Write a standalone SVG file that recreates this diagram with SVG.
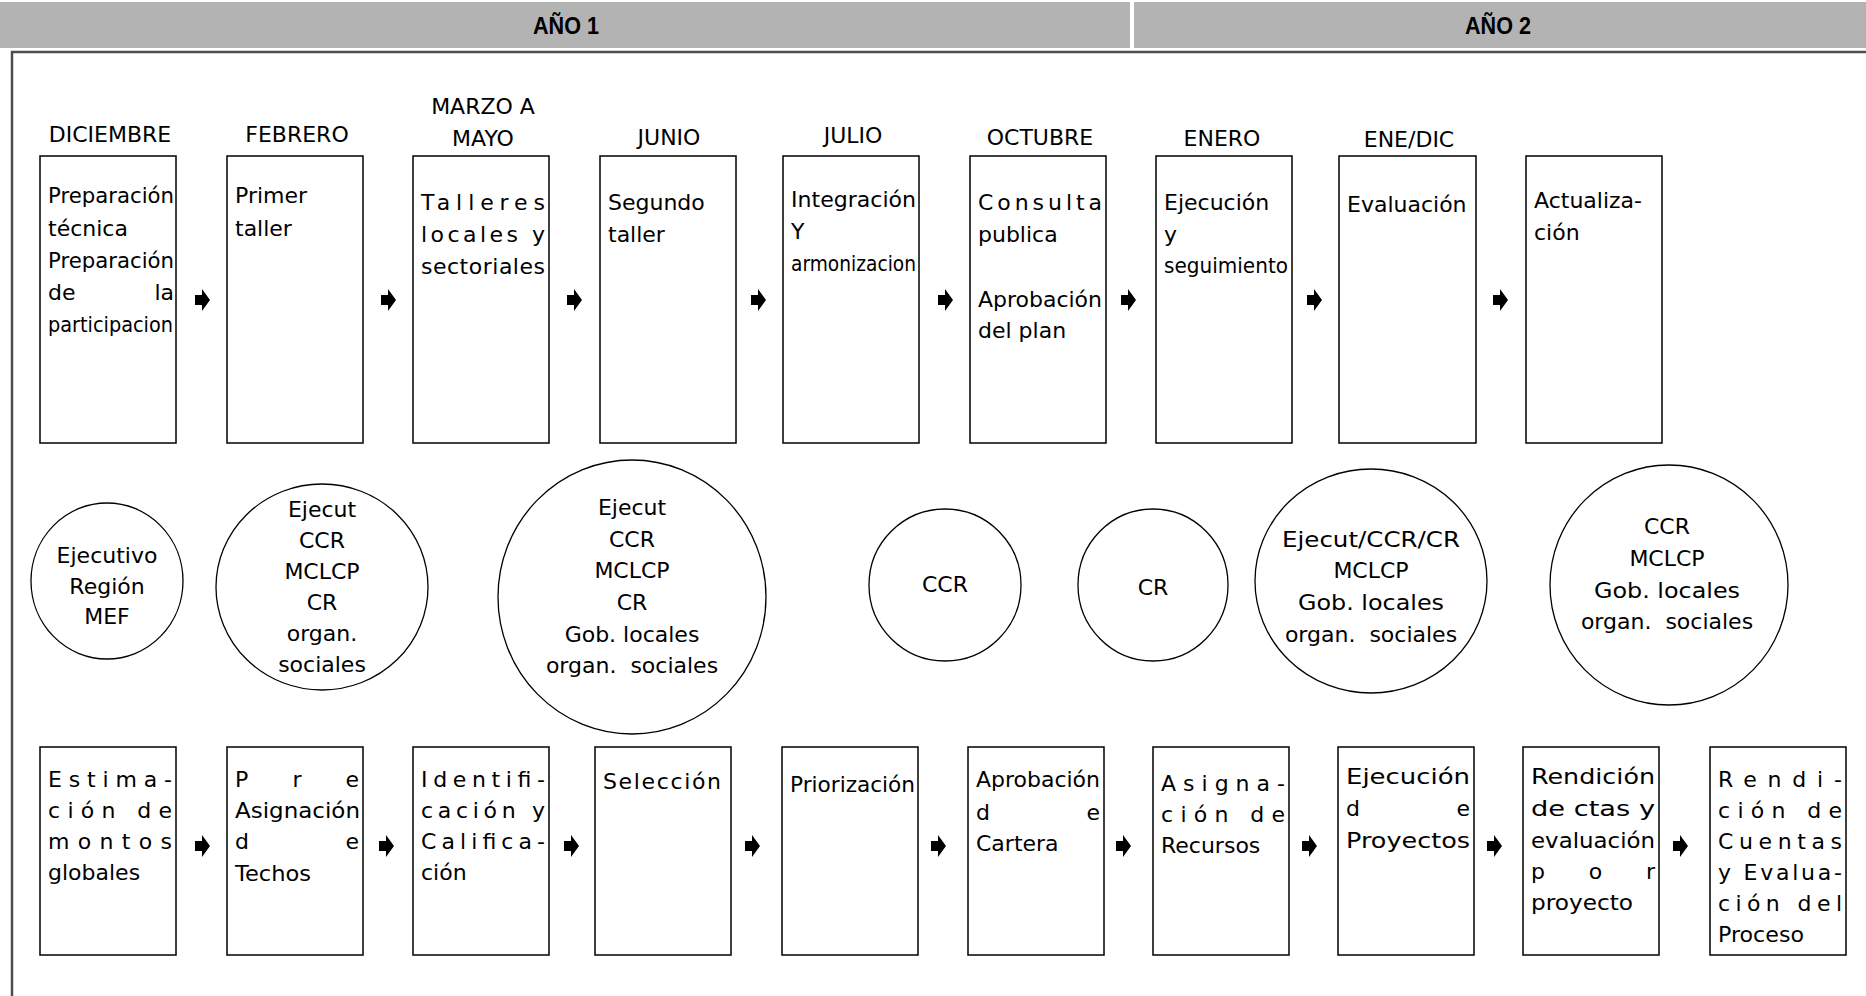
<svg xmlns="http://www.w3.org/2000/svg" width="1866" height="996" viewBox="0 0 1866 996">
<defs>
<style>
.hdr{fill:#b3b3b3}
.ht{font-family:"Liberation Sans",Arial,sans-serif;font-weight:bold;font-size:23px;fill:#000;text-anchor:middle}
.frame{fill:none;stroke:#4d4d4d;stroke-width:2.5}
.box{fill:#fff;stroke:#000;stroke-width:1.5}
.ell{fill:#fff;stroke:#000;stroke-width:1.3}
.t{font-family:"DejaVu Sans","Liberation Sans",sans-serif;font-size:22px;fill:#000}
.m{font-family:"DejaVu Sans","Liberation Sans",sans-serif;font-size:22px;fill:#000;text-anchor:middle}
.c{text-anchor:middle}
.e{text-anchor:end}
</style>
<path id="arr" d="M-7,-5 H0 V-11 L8,0 L0,11 V5 H-7 Z" fill="#000"/>
</defs>
<rect width="1866" height="996" fill="#fff"/>
<g id="header">
<rect class="hdr" x="0" y="2" width="1130" height="46"/>
<rect class="hdr" x="1134" y="2" width="732" height="46"/>
<text class="ht" x="566" y="34" textLength="66" lengthAdjust="spacingAndGlyphs">AÑO 1</text>
<text class="ht" x="1498" y="34" textLength="66" lengthAdjust="spacingAndGlyphs">AÑO 2</text>
</g>
<path class="frame" d="M12,996 V52 H1866"/>
<g id="months">
<text class="m" x="110" y="142">DICIEMBRE</text>
<text class="m" x="297" y="142">FEBRERO</text>
<text class="m" x="483" y="114">MARZO A</text>
<text class="m" x="483" y="146">MAYO</text>
<text class="m" x="669" y="145">JUNIO</text>
<text class="m" x="853" y="143">JULIO</text>
<text class="m" x="1040" y="145">OCTUBRE</text>
<text class="m" x="1222" y="146">ENERO</text>
<text class="m" x="1409" y="147">ENE/DIC</text>
</g>
<g id="t1">
<rect class="box" x="40" y="156" width="136" height="287"/>
<text class="t" x="48" y="203" textLength="126" lengthAdjust="spacingAndGlyphs">Preparación</text>
<text class="t" x="48" y="236">técnica</text>
<text class="t" x="48" y="268" textLength="126" lengthAdjust="spacingAndGlyphs">Preparación</text>
<text class="t" x="48" y="300">de</text><text class="t e" x="174" y="300">la</text>
<text class="t" x="48" y="332" textLength="125" lengthAdjust="spacingAndGlyphs">participacion</text>
</g>
<g id="t2">
<rect class="box" x="227" y="156" width="136" height="287"/>
<text class="t" x="235" y="203">Primer</text>
<text class="t" x="235" y="236">taller</text>
</g>
<g id="t3">
<rect class="box" x="413" y="156" width="136" height="287"/>
<text class="t" x="421" y="210" textLength="124" lengthAdjust="spacing">Talleres</text>
<text class="t" x="421" y="242" textLength="124" lengthAdjust="spacing">locales y</text>
<text class="t" x="421" y="274" textLength="124" lengthAdjust="spacing">sectoriales</text>
</g>
<g id="t4">
<rect class="box" x="600" y="156" width="136" height="287"/>
<text class="t" x="608" y="210">Segundo</text>
<text class="t" x="608" y="242">taller</text>
</g>
<g id="t5">
<rect class="box" x="783" y="156" width="136" height="287"/>
<text class="t" x="791" y="207" textLength="125" lengthAdjust="spacingAndGlyphs">Integración</text>
<text class="t" x="791" y="239">Y</text>
<text class="t" x="791" y="271" textLength="125" lengthAdjust="spacingAndGlyphs">armonizacion</text>
</g>
<g id="t6">
<rect class="box" x="970" y="156" width="136" height="287"/>
<text class="t" x="978" y="210" textLength="124" lengthAdjust="spacing">Consulta</text>
<text class="t" x="978" y="242">publica</text>
<text class="t" x="978" y="307" textLength="124" lengthAdjust="spacingAndGlyphs">Aprobación</text>
<text class="t" x="978" y="338">del plan</text>
</g>
<g id="t7">
<rect class="box" x="1156" y="156" width="136" height="287"/>
<text class="t" x="1164" y="210">Ejecución</text>
<text class="t" x="1164" y="242">y</text>
<text class="t" x="1164" y="273" textLength="124" lengthAdjust="spacingAndGlyphs">seguimiento</text>
</g>
<g id="t8">
<rect class="box" x="1339" y="156" width="137" height="287"/>
<text class="t" x="1347" y="212">Evaluación</text>
</g>
<g id="t9">
<rect class="box" x="1526" y="156" width="136" height="287"/>
<text class="t" x="1534" y="208">Actualiza-</text>
<text class="t" x="1534" y="240">ción</text>
</g>
<g id="e1">
<ellipse class="ell" cx="107" cy="581" rx="76" ry="78"/>
<text class="t c" x="107" y="563">Ejecutivo</text>
<text class="t c" x="107" y="594">Región</text>
<text class="t c" x="107" y="624">MEF</text>
</g>
<g id="e2">
<ellipse class="ell" cx="322" cy="587" rx="106" ry="103"/>
<text class="t c" x="322" y="517">Ejecut</text>
<text class="t c" x="322" y="548">CCR</text>
<text class="t c" x="322" y="579">MCLCP</text>
<text class="t c" x="322" y="610">CR</text>
<text class="t c" x="322" y="641">organ.</text>
<text class="t c" x="322" y="672">sociales</text>
</g>
<g id="e3">
<ellipse class="ell" cx="632" cy="597" rx="134" ry="137"/>
<text class="t c" x="632" y="515">Ejecut</text>
<text class="t c" x="632" y="547">CCR</text>
<text class="t c" x="632" y="578">MCLCP</text>
<text class="t c" x="632" y="610">CR</text>
<text class="t c" x="632" y="642">Gob. locales</text>
<text class="t c" x="632" y="673" xml:space="preserve">organ.  sociales</text>
</g>
<g id="e4">
<ellipse class="ell" cx="945" cy="585" rx="76" ry="76"/>
<text class="t c" x="945" y="592">CCR</text>
</g>
<g id="e5">
<ellipse class="ell" cx="1153" cy="585" rx="75" ry="76"/>
<text class="t c" x="1153" y="595">CR</text>
</g>
<g id="e6">
<ellipse class="ell" cx="1371" cy="581" rx="116" ry="112"/>
<text class="t c" x="1371" y="547" textLength="178" lengthAdjust="spacingAndGlyphs">Ejecut/CCR/CR</text>
<text class="t c" x="1371" y="578">MCLCP</text>
<text class="t c" x="1371" y="610" textLength="146" lengthAdjust="spacingAndGlyphs">Gob. locales</text>
<text class="t c" x="1371" y="642" xml:space="preserve">organ.  sociales</text>
</g>
<g id="e7">
<ellipse class="ell" cx="1669" cy="585" rx="119" ry="120"/>
<text class="t c" x="1667" y="534">CCR</text>
<text class="t c" x="1667" y="566">MCLCP</text>
<text class="t c" x="1667" y="598" textLength="146" lengthAdjust="spacingAndGlyphs">Gob. locales</text>
<text class="t c" x="1667" y="629" xml:space="preserve">organ.  sociales</text>
</g>
<g id="b1">
<rect class="box" x="40" y="747" width="136" height="208"/>
<text class="t" x="48" y="787" textLength="124" lengthAdjust="spacing">Estima-</text>
<text class="t" x="48" y="818" textLength="124" lengthAdjust="spacing">ción de</text>
<text class="t" x="48" y="849" textLength="124" lengthAdjust="spacing">montos</text>
<text class="t" x="48" y="880">globales</text>
</g>
<g id="b2">
<rect class="box" x="227" y="747" width="136" height="208"/>
<text class="t" x="235" y="787" textLength="124" lengthAdjust="spacing">Pre</text>
<text class="t" x="235" y="818" textLength="125" lengthAdjust="spacingAndGlyphs">Asignación</text>
<text class="t" x="235" y="849" textLength="124" lengthAdjust="spacing">de</text>
<text class="t" x="235" y="881" textLength="76" lengthAdjust="spacingAndGlyphs">Techos</text>
</g>
<g id="b3">
<rect class="box" x="413" y="747" width="136" height="208"/>
<text class="t" x="421" y="787" textLength="124" lengthAdjust="spacing">Identifi-</text>
<text class="t" x="421" y="818" textLength="124" lengthAdjust="spacing">cación y</text>
<text class="t" x="421" y="849" textLength="124" lengthAdjust="spacing">Califica-</text>
<text class="t" x="421" y="880">ción</text>
</g>
<g id="b4">
<rect class="box" x="595" y="747" width="136" height="208"/>
<text class="t" x="603" y="789" textLength="118" lengthAdjust="spacing">Selección</text>
</g>
<g id="b5">
<rect class="box" x="782" y="747" width="136" height="208"/>
<text class="t" x="790" y="792" textLength="125" lengthAdjust="spacingAndGlyphs">Priorización</text>
</g>
<g id="b6">
<rect class="box" x="968" y="747" width="136" height="208"/>
<text class="t" x="976" y="787" textLength="124" lengthAdjust="spacingAndGlyphs">Aprobación</text>
<text class="t" x="976" y="820" textLength="124" lengthAdjust="spacing">de</text>
<text class="t" x="976" y="851">Cartera</text>
</g>
<g id="b7">
<rect class="box" x="1153" y="747" width="136" height="208"/>
<text class="t" x="1161" y="791" textLength="124" lengthAdjust="spacing">Asigna-</text>
<text class="t" x="1161" y="822" textLength="124" lengthAdjust="spacing">ción de</text>
<text class="t" x="1161" y="853">Recursos</text>
</g>
<g id="b8">
<rect class="box" x="1338" y="747" width="136" height="208"/>
<text class="t" x="1346" y="784" textLength="124" lengthAdjust="spacingAndGlyphs">Ejecución</text>
<text class="t" x="1346" y="816" textLength="124" lengthAdjust="spacing">de</text>
<text class="t" x="1346" y="848" textLength="124" lengthAdjust="spacingAndGlyphs">Proyectos</text>
</g>
<g id="b9">
<rect class="box" x="1523" y="747" width="136" height="208"/>
<text class="t" x="1531" y="784" textLength="124" lengthAdjust="spacingAndGlyphs">Rendición</text>
<text class="t" x="1531" y="816" textLength="124" lengthAdjust="spacingAndGlyphs">de ctas y</text>
<text class="t" x="1531" y="848" textLength="124" lengthAdjust="spacingAndGlyphs">evaluación</text>
<text class="t" x="1531" y="879" textLength="124" lengthAdjust="spacing">por</text>
<text class="t" x="1531" y="910" textLength="102" lengthAdjust="spacingAndGlyphs">proyecto</text>
</g>
<g id="b10">
<rect class="box" x="1710" y="747" width="136" height="208"/>
<text class="t" x="1718" y="787" textLength="124" lengthAdjust="spacing">Rendi-</text>
<text class="t" x="1718" y="818" textLength="124" lengthAdjust="spacing">ción de</text>
<text class="t" x="1718" y="849" textLength="124" lengthAdjust="spacing">Cuentas</text>
<text class="t" x="1718" y="880" textLength="124" lengthAdjust="spacing">y Evalua-</text>
<text class="t" x="1718" y="911" textLength="124" lengthAdjust="spacing">ción del</text>
<text class="t" x="1718" y="942" textLength="86" lengthAdjust="spacingAndGlyphs">Proceso</text>
</g>
<g id="connectors">
<use href="#arr" x="202" y="300"/>
<use href="#arr" x="388" y="300"/>
<use href="#arr" x="574" y="300"/>
<use href="#arr" x="758" y="300"/>
<use href="#arr" x="945" y="300"/>
<use href="#arr" x="1128" y="300"/>
<use href="#arr" x="1314" y="300"/>
<use href="#arr" x="1500" y="300"/>
<use href="#arr" x="202" y="846"/>
<use href="#arr" x="386" y="846"/>
<use href="#arr" x="571" y="846"/>
<use href="#arr" x="752" y="846"/>
<use href="#arr" x="938" y="846"/>
<use href="#arr" x="1123" y="846"/>
<use href="#arr" x="1309" y="846"/>
<use href="#arr" x="1494" y="846"/>
<use href="#arr" x="1680" y="846"/>
</g>
</svg>
